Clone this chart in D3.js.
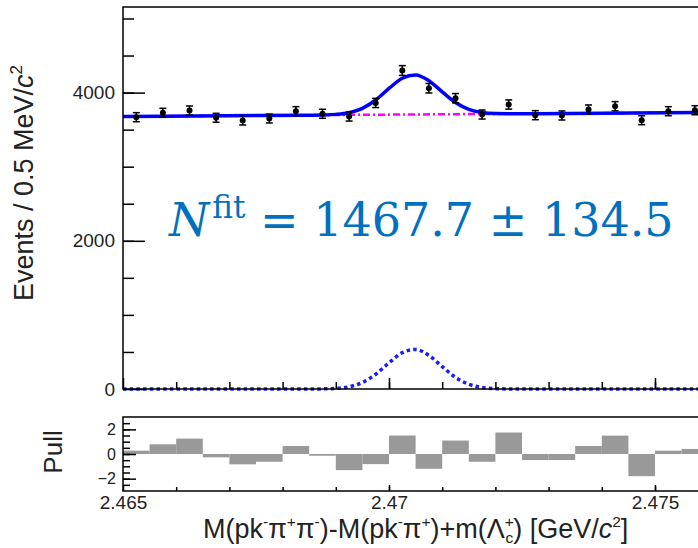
<!DOCTYPE html>
<html>
<head>
<meta charset="utf-8">
<script src="https://cdn.jsdelivr.net/npm/d3@7"></script>
<style>
  body { margin: 0; background: #fff; }
  text { font-family: "Liberation Sans", Arial, sans-serif; }
</style>
</head>
<body>
<div id="chart"></div>
<script>
// bin centres (0.5 MeV bins) and event counts
var binCenters = [2.46525, 2.46575, 2.46625, 2.46675, 2.46725, 2.46775, 2.46825, 2.46875,
    2.46925, 2.46975, 2.47025, 2.47075, 2.47125, 2.47175, 2.47225, 2.47275, 2.47325,
    2.47375, 2.47425, 2.47475, 2.47525, 2.47575];
var counts = [3668, 3727, 3758, 3660, 3623, 3650, 3749, 3714, 3677, 3860, 4298, 4059,
    3924, 3704, 3839, 3695, 3691, 3772, 3816, 3627, 3749, 3762];
var countErr = [61, 61, 61, 60, 60, 60, 61, 61, 61, 62, 66, 64, 63, 61, 62, 61, 61, 61, 62, 60, 61, 61];
var pulls = [0.27, 0.79, 1.25, -0.27, -0.84, -0.63, 0.65, -0.14, -1.31, -0.82, 1.5, -1.2,
    1.09, -0.63, 1.74, -0.49, -0.49, 0.65, 1.49, -1.8, 0.27, 0.41];

// fit curves
var fitX = [2.465, 2.4685, 2.46875, 2.469, 2.46925, 2.4695, 2.46975, 2.470, 2.47025, 2.4705,
    2.47075, 2.471, 2.47125, 2.4715, 2.47175, 2.472, 2.47225, 2.4725, 2.476];
var fitTotal = [3678, 3695, 3698, 3706, 3729, 3788, 3900, 4056, 4194, 4238, 4160, 4010,
    3866, 3774, 3731, 3717, 3715, 3715, 3732];
var fitSignal = [0, 0, 2, 8, 30, 88, 199, 353, 490, 533, 454, 302, 157, 64, 20, 5, 1, 0, 0];
var bkgX = [2.465, 2.476];
var bkgY = [3678, 3732];

var yMajor = [0, 2000, 4000];
var xLabels = [2.465, 2.47, 2.475];
var pullMajor = [-2, 0, 2];

var W = 698, H = 548;
var binW = 0.0005;

var svg = d3.select("#chart").append("svg")
    .attr("width", W)
    .attr("height", H);

var x = d3.scaleLinear().domain([2.465, 2.476]).range([123, 708.2]);
var y = d3.scaleLinear().domain([0, 5155]).range([389, 7]);
var yp = d3.scaleLinear().domain([-3, 3]).range([491, 417]);

// ---- main panel ----
var main = svg.append("g");

// background (dash-dot magenta)
main.append("path")
    .datum(d3.zip(bkgX, bkgY))
    .attr("fill", "none")
    .attr("stroke", "#ff00ff")
    .attr("stroke-width", 2.5)
    .attr("stroke-dasharray", "7,3,2,3")
    .attr("d", d3.line().x(function(d){ return x(d[0]); }).y(function(d){ return y(d[1]); }));

// signal (dotted blue)
main.append("path")
    .datum(d3.zip(fitX, fitSignal))
    .attr("fill", "none")
    .attr("stroke", "#1a1aff")
    .attr("stroke-width", 3.5)
    .attr("stroke-dasharray", "3.5,3.2")
    .attr("d", d3.line().curve(d3.curveMonotoneX)
        .x(function(d){ return x(d[0]); }).y(function(d){ return y(d[1]); }));

// total fit (solid blue)
main.append("path")
    .datum(d3.zip(fitX, fitTotal))
    .attr("fill", "none")
    .attr("stroke", "#0000ff")
    .attr("stroke-width", 3.5)
    .attr("d", d3.line().curve(d3.curveMonotoneX)
        .x(function(d){ return x(d[0]); }).y(function(d){ return y(d[1]); }));

// data points with error bars
var pts = main.selectAll("g.pt")
    .data(d3.range(binCenters.length))
    .enter().append("g")
    .attr("class", "pt");
pts.append("line")
    .attr("x1", function(i){ return x(binCenters[i]); })
    .attr("x2", function(i){ return x(binCenters[i]); })
    .attr("y1", function(i){ return y(counts[i] - countErr[i]); })
    .attr("y2", function(i){ return y(counts[i] + countErr[i]); })
    .attr("stroke", "#000").attr("stroke-width", 1.5);
pts.selectAll("line.cap")
    .data(function(i){ return [[i, -1], [i, 1]]; })
    .enter().append("line")
    .attr("class", "cap")
    .attr("x1", function(d){ return x(binCenters[d[0]]) - 3.5; })
    .attr("x2", function(d){ return x(binCenters[d[0]]) + 3.5; })
    .attr("y1", function(d){ return y(counts[d[0]] + d[1] * countErr[d[0]]); })
    .attr("y2", function(d){ return y(counts[d[0]] + d[1] * countErr[d[0]]); })
    .attr("stroke", "#000").attr("stroke-width", 1.5);
pts.append("circle")
    .attr("cx", function(i){ return x(binCenters[i]); })
    .attr("cy", function(i){ return y(counts[i]); })
    .attr("r", 3)
    .attr("fill", "#000");

// frame
main.append("rect")
    .attr("x", x(2.465)).attr("y", y.range()[1])
    .attr("width", x(2.476) - x(2.465))
    .attr("height", y.range()[0] - y.range()[1])
    .attr("fill", "none").attr("stroke", "#000").attr("stroke-width", 1.5);

// y axis
var yAxis = main.append("g")
    .attr("transform", "translate(" + x(2.465) + ",0)")
    .call(d3.axisLeft(y).tickValues(yMajor).tickSize(-22).tickPadding(8).tickFormat(d3.format("d")));
main.append("g")
    .attr("transform", "translate(" + x(2.465) + ",0)")
    .call(d3.axisLeft(y).tickValues(d3.range(500, 5155, 500)).tickSize(-11).tickFormat(""));

// x ticks on main panel (no labels)
main.append("g")
    .attr("transform", "translate(0," + y(0) + ")")
    .call(d3.axisBottom(x).tickValues(xLabels).tickSize(-11).tickFormat(""));
main.append("g")
    .attr("transform", "translate(0," + y(0) + ")")
    .call(d3.axisBottom(x).tickValues(d3.range(2.466, 2.4755, 0.001)).tickSize(-7).tickFormat(""));

// ---- pull panel ----
var pull = svg.append("g");
pull.selectAll("rect.bar")
    .data(d3.range(pulls.length))
    .enter().append("rect")
    .attr("class", "bar")
    .attr("x", function(i){ return x(binCenters[i] - binW / 2); })
    .attr("width", function(i){ return x(binCenters[i] + binW / 2) - x(binCenters[i] - binW / 2); })
    .attr("y", function(i){ return Math.min(yp(pulls[i]), yp(0)); })
    .attr("height", function(i){ return Math.abs(yp(pulls[i]) - yp(0)); })
    .attr("fill", "#999999");

pull.append("rect")
    .attr("x", x(2.465)).attr("y", yp(3))
    .attr("width", x(2.476) - x(2.465))
    .attr("height", yp(-3) - yp(3))
    .attr("fill", "none").attr("stroke", "#000").attr("stroke-width", 1.5);

pull.append("g")
    .attr("class", "yl")
    .attr("transform", "translate(" + x(2.465) + ",0)")
    .call(d3.axisLeft(yp).tickValues(pullMajor).tickSize(-13).tickPadding(7).tickFormat(d3.format("d")));
pull.append("g")
    .attr("transform", "translate(" + x(2.465) + ",0)")
    .call(d3.axisLeft(yp).tickValues(d3.range(-2.5, 3, 0.5)).tickSize(-7).tickFormat(""));

pull.append("g")
    .attr("class", "xl")
    .attr("transform", "translate(0," + yp(-3) + ")")
    .call(d3.axisBottom(x).tickValues(xLabels).tickSize(-6).tickPadding(5).tickFormat(d3.format("")));
pull.append("g")
    .attr("transform", "translate(0," + yp(-3) + ")")
    .call(d3.axisBottom(x).tickValues(d3.range(2.466, 2.4755, 0.001)).tickSize(-4).tickFormat(""));

// axis styling
svg.selectAll(".domain").remove();
svg.selectAll(".tick line").attr("stroke", "#000").attr("stroke-width", 1.5);
yAxis.selectAll("text").style("font-size", "19px").attr("fill", "#222");
pull.selectAll(".yl .tick text").style("font-size", "16px").attr("fill", "#222");
pull.selectAll(".xl .tick text").style("font-size", "19px").attr("fill", "#222");

// ---- titles ----
var yt = svg.append("text")
    .attr("transform", "translate(33,183) rotate(-90)")
    .attr("text-anchor", "middle")
    .style("font-size", "27px")
    .attr("fill", "#222");
yt.append("tspan").text("Events / 0.5 MeV/");
yt.append("tspan").style("font-style", "italic").text("c");
yt.append("tspan").attr("dy", -11).style("font-size", "17px").text("2");

svg.append("text")
    .attr("transform", "translate(53,452) rotate(-90)")
    .attr("text-anchor", "middle")
    .attr("dy", "0.35em")
    .style("font-size", "26px")
    .attr("fill", "#222")
    .text("Pull");

var xt = svg.append("text")
    .attr("x", 203).attr("y", 538)
    .style("font-size", "27px")
    .attr("fill", "#222");
function part(t, dy, small, italic) {
    var s = xt.append("tspan").text(t);
    if (dy) s.attr("dy", dy);
    if (small) s.style("font-size", "15.5px");
    if (italic) s.style("font-style", "italic");
    return s;
}
part("M(pk");
part("-", -11, true);
part("\u03c0", 11);
part("+", -11, true);
part("\u03c0", 11);
part("-", -11, true);
part(")-M(pk", 11);
part("-", -11, true);
part("\u03c0", 11);
part("+", -11, true);
part(")+m(\u039b", 11);
part("+", -11, true);
part("c", 16, true).attr("dx", -8.5);
part(") [GeV/", -5);
part("c", 0, false, true);
part("2", -11, true);
part("]", 11);

// fit result annotation
var ann = svg.append("text")
    .attr("x", 169).attr("y", 236)
    .style("font-family", "'DejaVu Serif', 'Liberation Serif', serif")
    .style("font-size", "46px")
    .attr("fill", "#0070c0");
ann.append("tspan").style("font-style", "italic").text("N");
ann.append("tspan").attr("dy", -18).attr("dx", 3).style("font-size", "31px").text("fit");
ann.append("tspan").attr("dy", 18).text(" = 1467.7 \u00b1 134.5");
</script>
</body>
</html>
